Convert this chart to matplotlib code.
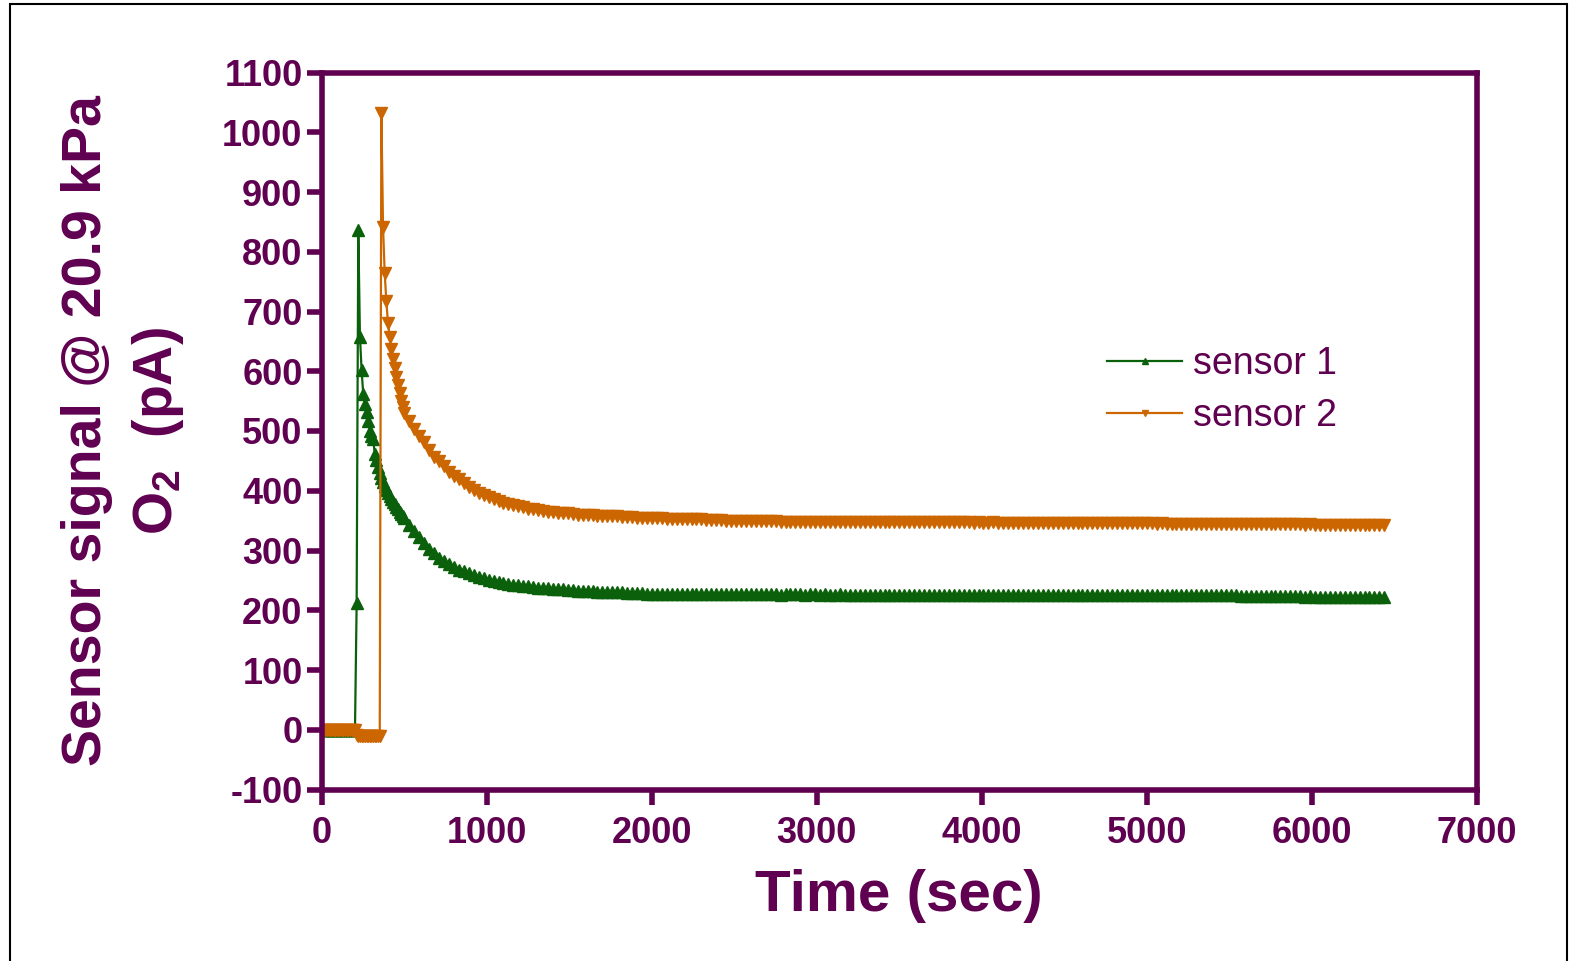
import numpy as np
import matplotlib
matplotlib.use('Agg')
import matplotlib.pyplot as plt
from matplotlib.patches import Rectangle

plt.rcParams['font.family'] = ['Liberation Sans', 'DejaVu Sans']
plt.rcParams['mathtext.default'] = 'regular'
plt.rcParams['axes.unicode_minus'] = False

# sampling grid: 10 s steps up to 500 s, then 30 s steps
t_early = np.arange(0, 500, 10)
t_late = np.arange(500, 6441, 30)

sensor1_early = [0, 0, 0, 0, 0, 0, 0, 0, 0, 0,
                 0, 0, 0, 0, 0, 0, 0, 0, 0, 0,
                 0, 212, 837, 658, 602, 562, 545, 532, 516, 500,
                 492, 486, 462, 452, 440, 430, 422, 415, 408, 402,
                 396, 391, 386, 381, 377, 373, 369, 365, 361, 357]

sensor2_early = [0, 0, 0, 0, 0, 0, 0, 0, 0, 0,
                 0, 0, 0, 0, 0, 0, 0, 0, 0, 0,
                 0, -8, -10, -10, -10, -10, -10, -10, -10, -10,
                 -10, -10, -10, -10, -10, -10, 1032, 842, 765, 717,
                 681, 658, 638, 621, 606, 591, 577, 563, 551, 540]

sensor1_late = [354, 343, 332, 322, 312, 302, 295, 288, 282, 277,
                272, 268, 265, 262, 259, 256, 254, 251, 249, 247,
                246, 244, 243, 242, 241, 240, 239, 238, 237, 237,
                236, 235, 235, 234, 234, 233, 233, 232, 232, 231,
                231, 231, 230, 230, 230, 229, 229, 229, 229, 228,
                228, 228, 228, 228, 228, 227, 227, 227, 227, 227,
                227, 227, 227, 227, 227, 227, 227, 227, 227, 227,
                227, 227, 227, 227, 227, 227, 226, 227, 227, 227,
                227, 226, 227, 227, 226, 227, 226, 226, 227, 226,
                226, 226, 226, 226, 226, 226, 226, 226, 226, 226,
                226, 226, 226, 226, 226, 226, 226, 226, 226, 226,
                226, 226, 226, 226, 226, 226, 226, 226, 226, 226,
                226, 226, 226, 226, 226, 226, 226, 226, 226, 226,
                226, 226, 226, 226, 226, 226, 226, 226, 226, 226,
                226, 226, 226, 226, 226, 226, 226, 226, 226, 226,
                226, 226, 226, 226, 225, 226, 225, 225, 225, 225,
                225, 225, 225, 225, 225, 225, 225, 225, 225, 224,
                224, 224, 224, 224, 224, 224, 224, 224, 224, 224,
                224, 224, 223, 224, 223, 223, 223, 223, 223, 223,
                223, 223, 223, 222, 222, 222, 222, 222, 222]

sensor2_late = [530, 517, 504, 492, 481, 468, 457, 449, 441, 432,
                425, 419, 413, 407, 402, 397, 393, 389, 386, 383,
                380, 378, 376, 374, 372, 370, 369, 367, 366, 365,
                364, 363, 362, 362, 361, 360, 360, 359, 359, 358,
                358, 357, 357, 357, 356, 356, 356, 355, 355, 355,
                354, 354, 354, 353, 353, 353, 353, 352, 352, 352,
                352, 351, 351, 351, 351, 350, 350, 350, 350, 350,
                349, 349, 349, 349, 349, 349, 348, 348, 348, 348,
                348, 348, 348, 348, 348, 347, 347, 347, 347, 347,
                347, 347, 347, 347, 347, 347, 347, 347, 347, 347,
                347, 347, 347, 347, 347, 347, 347, 347, 347, 347,
                347, 347, 347, 347, 347, 346, 347, 346, 346, 347,
                346, 346, 346, 346, 346, 346, 346, 346, 346, 346,
                346, 346, 346, 346, 346, 346, 346, 346, 346, 346,
                346, 346, 346, 346, 346, 346, 346, 346, 346, 346,
                346, 346, 345, 346, 345, 345, 345, 345, 345, 345,
                345, 345, 345, 345, 345, 345, 345, 345, 344, 344,
                344, 344, 344, 344, 344, 344, 344, 344, 344, 344,
                344, 344, 343, 344, 343, 343, 343, 343, 343, 343,
                343, 343, 343, 343, 342, 342, 342, 342, 342]

time = np.concatenate([t_early, t_late])
sensor1 = np.array(sensor1_early + sensor1_late)
sensor2 = np.array(sensor2_early + sensor2_late)

purple = '#600050'
green = '#0B610B'
orange = '#CC6600'

fig = plt.figure(figsize=(15.78, 9.61), dpi=100)
ax = fig.add_axes([322/1578, 1-789.5/961, (1476.7-322)/1578, (789.5-72.5)/961])

ax.plot(time, sensor1, color=green, lw=1.6, marker='^', ms=9, mec=green, label='sensor 1')
ax.plot(time, sensor2, color=orange, lw=1.6, marker='v', ms=9, mec=orange, label='sensor 2')

ax.set_xlim(0, 7000)
ax.set_ylim(-100, 1100)
ax.set_xticks(np.arange(0, 7001, 1000))
ax.set_yticks(np.arange(-100, 1101, 100))

for s in ax.spines.values():
    s.set_color(purple)
    s.set_linewidth(4)
ax.tick_params(colors=purple, width=4, length=11, labelsize=26)
ax.tick_params(axis='y', pad=3)
ax.tick_params(axis='x', pad=8)
for lab in ax.get_xticklabels() + ax.get_yticklabels():
    lab.set_fontweight('bold')

leg = ax.legend(loc='center left', bbox_to_anchor=(0.680, 0.557), frameon=False,
                fontsize=27, handlelength=2.0, handletextpad=0.3, labelspacing=0.42,
                borderpad=0, borderaxespad=0, markerscale=0.55, numpoints=1)
for txt in leg.get_texts():
    txt.set_color(purple)

fig.text(123.5/1578, 1-431/961, 'Sensor signal @ 20.9 kPa\nO$_2$  (pA)', rotation=90,
         ha='center', va='center', multialignment='center', linespacing=1.4,
         fontsize=40, fontweight='bold', color=purple)
fig.text(899/1578, 1-896/961, 'Time (sec)', ha='center', va='center',
         fontsize=42, fontweight='bold', color=purple)

fig.add_artist(Rectangle((10/1578, -0.05), (1567-10)/1578, 1.05-4/961,
                         transform=fig.transFigure, fill=False, ec='black', lw=1.5,
                         clip_on=False))

fig.savefig('out.png', dpi=100)
